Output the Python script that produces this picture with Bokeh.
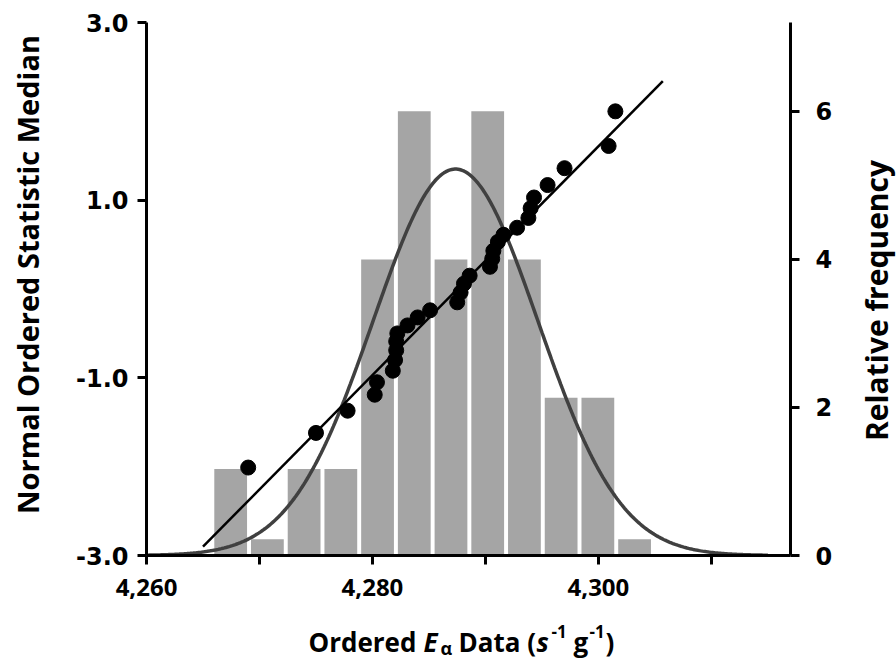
import numpy as np
from bokeh.plotting import figure
from bokeh.layouts import row, column
from bokeh.models import Range1d, LinearAxis, FixedTicker, PrintfTickFormatter, NumeralTickFormatter
from bokeh.core.properties import value
from bokeh.embed import file_html
from bokeh.resources import INLINE

# ---------------- data ----------------
bin_centers = [4267.45, 4270.70, 4273.95, 4277.20, 4280.45, 4283.70,
               4286.95, 4290.20, 4293.45, 4296.70, 4299.95, 4303.20]
rel_freq = [1.17, 0.22, 1.17, 1.17, 4.0, 6.0, 4.0, 6.0, 4.0, 2.13, 2.13, 0.22]

ordered_data = [4269.0, 4275.0, 4277.8, 4280.2, 4280.4, 4281.8, 4282.0, 4282.1,
                4282.1, 4282.2, 4283.1, 4284.0, 4285.1, 4287.5, 4287.8, 4288.1,
                4288.6, 4290.4, 4290.6, 4290.7, 4291.1, 4291.6, 4292.8, 4293.8,
                4294.0, 4294.3, 4295.5, 4297.0, 4300.9, 4301.5]
normal_median = [-2.01, -1.62, -1.37, -1.19, -1.05, -0.92, -0.80, -0.69,
                 -0.59, -0.50, -0.41, -0.32, -0.24, -0.15, -0.04, 0.06,
                 0.15, 0.25, 0.34, 0.43, 0.53, 0.61, 0.69, 0.80,
                 0.91, 1.03, 1.17, 1.36, 1.61, 2.00]

fit_x = [4265.0, 4305.7]
fit_y = [-2.90, 2.34]

norm_mean = 4287.35
norm_sd = 7.3
norm_peak = 5.22

x_ticks = [4260, 4270, 4280, 4290, 4300, 4310]
x_tick_labels = {4260: "4,260", 4270: "", 4280: "4,280", 4290: "", 4300: "4,300", 4310: ""}
left_ticks = [-3, -1, 1, 3]
right_ticks = [0, 2, 4, 6]

left_title = "Normal Ordered Statistic Median"
right_title = "Relative frequency"

# ---------------- page geometry (pixels) ----------------
PAGE_W, PAGE_H = 896, 663
LEFT_W, RIGHT_W = 60, 46
MAIN_W = PAGE_W - LEFT_W - RIGHT_W   # 790
MAIN_H = 612
XT_H = PAGE_H - MAIN_H               # 51
FRAME_L, FRAME_R, FRAME_T, FRAME_B = 146, 790, 22, 555

# ---------------- main figure ----------------
p = figure(width=MAIN_W, height=MAIN_H,
           x_range=Range1d(4260, 4317), y_range=Range1d(-3, 3),
           output_backend="svg", toolbar_location=None, title=None,
           min_border_left=FRAME_L - LEFT_W, min_border_right=LEFT_W + MAIN_W - FRAME_R,
           min_border_top=FRAME_T, min_border_bottom=MAIN_H - FRAME_B)
p.extra_y_ranges = {"freq": Range1d(0, 7.2)}
p.grid.visible = False
p.outline_line_color = None

p.vbar(x=bin_centers, top=rel_freq, bottom=0, width=2.9,
       y_range_name="freq", fill_color="#a5a5a5", line_color=None)

cx = np.linspace(4260, 4315, 400)
cy = norm_peak * np.exp(-0.5 * ((cx - norm_mean) / norm_sd) ** 2)
p.line(cx, cy, y_range_name="freq", line_color="#404040", line_width=3.5)

p.line(fit_x, fit_y, line_color="black", line_width=2.5)

p.scatter(ordered_data, normal_median, size=15, fill_color="black", line_color="black")

def style_axis(ax):
    ax.axis_line_width = 3
    ax.axis_line_color = "black"
    ax.major_tick_line_width = 3
    ax.major_tick_line_color = "black"
    ax.major_tick_out = 9
    ax.major_tick_in = 0
    ax.minor_tick_out = 0
    ax.minor_tick_in = 0
    ax.major_label_text_color = "black"
    ax.major_label_text_font_style = "bold"

xa = p.xaxis[0]
style_axis(xa)
xa.ticker = FixedTicker(ticks=x_ticks)
xa.formatter = NumeralTickFormatter(format="0,0")
xa.major_label_overrides = x_tick_labels
xa.major_label_text_font = "Open Sans"
xa.major_label_text_font_size = "24px"
xa.major_label_standoff = 14

ya = p.yaxis[0]
style_axis(ya)
ya.ticker = FixedTicker(ticks=left_ticks)
ya.formatter = PrintfTickFormatter(format="%.1f")
ya.major_label_text_font = "DejaVu Sans"
ya.major_label_text_font_size = "24px"
ya.major_label_standoff = 9

ra = LinearAxis(y_range_name="freq", ticker=FixedTicker(ticks=right_ticks))
style_axis(ra)
ra.major_label_text_font = "DejaVu Sans"
ra.major_label_text_font_size = "24px"
ra.major_label_standoff = 16
p.add_layout(ra, "right")

# ---------------- title strips (data units = page pixels) ----------------
def strip(w, h, xr, yr, bl=0, br=0):
    f = figure(width=w, height=h, x_range=Range1d(*xr), y_range=Range1d(*yr),
               output_backend="svg", toolbar_location=None, title=None,
               x_axis_location=None, y_axis_location=None,
               min_border=0, min_border_left=bl, min_border_right=br,
               min_border_top=0, min_border_bottom=0)
    f.outline_line_color = None
    f.grid.visible = False
    return f

# y measured from the page bottom
lt = strip(LEFT_W, PAGE_H, (0, LEFT_W), (0, PAGE_H))
lt.text(x=[27], y=[PAGE_H - 274], text=[left_title], angle=np.pi / 2,
        text_font=value("Open Sans"), text_font_style="bold", text_font_size="29px",
        text_color="black", text_align="center", text_baseline="middle")

rt = strip(RIGHT_W, PAGE_H, (LEFT_W + MAIN_W, PAGE_W), (0, PAGE_H))
rt.text(x=[876], y=[PAGE_H - 300], text=[right_title], angle=np.pi / 2,
        text_font=value("Open Sans"), text_font_style="bold", text_font_size="30px",
        text_color="black", text_align="center", text_baseline="middle")

# x-axis title strip: its frame is aligned with the main frame (146..790)
xt = strip(MAIN_W, XT_H, (FRAME_L, FRAME_R), (0, XT_H),
           bl=FRAME_L - LEFT_W, br=LEFT_W + MAIN_W - FRAME_R)

BASE = 641   # baseline of the title

def piece(txt, X, dy, size, style="bold"):
    xt.text(x=[X], y=[PAGE_H - BASE + dy], text=[txt],
            text_font=value("Open Sans"), text_font_style=style, text_font_size=size,
            text_color="black", text_align="left", text_baseline="alphabetic")

piece("Ordered", 308, 0, "26px")
piece("E", 423, 0, "26px", "bold italic")
piece("\u03b1", 440, -6, "18px")
piece("Data (", 458, 0, "26px")
piece("s", 536, 0, "26px", "bold italic")
piece("-1", 551, 10, "17px")
piece("g", 573, 0, "26px")
piece("-1", 589, 10, "17px")
piece(")", 605, 0, "26px")

layout = row(lt, column(p, xt), rt)
open("out.html", "w").write(file_html(layout, INLINE))
